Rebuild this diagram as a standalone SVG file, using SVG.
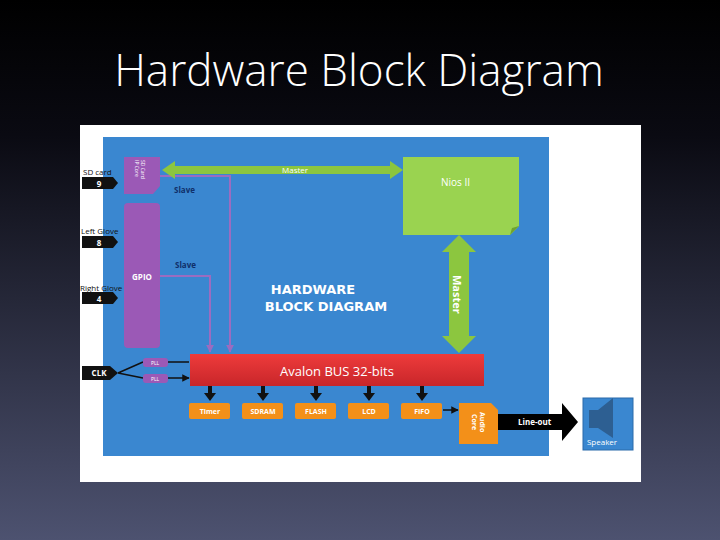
<svg xmlns="http://www.w3.org/2000/svg" width="720" height="540" viewBox="0 0 720 540">
<defs>
<linearGradient id="bg" x1="0" y1="0" x2="0" y2="1"><stop offset="0" stop-color="#000"/><stop offset="0.25" stop-color="#0a0a12"/><stop offset="1" stop-color="#4d5270"/></linearGradient>
<linearGradient id="red" x1="0" y1="0" x2="0" y2="1"><stop offset="0" stop-color="#ee3b3b"/><stop offset="1" stop-color="#c8262a"/></linearGradient>
<marker id="ah" viewBox="0 0 10 10" refX="9" refY="5" markerWidth="5" markerHeight="5" orient="auto"><path d="M0,0L10,5L0,10z" fill="#111"/></marker>
<marker id="ph" viewBox="0 0 10 10" refX="9" refY="5" markerWidth="4" markerHeight="4" orient="auto"><path d="M0,0L10,5L0,10z" fill="#9b6cc0"/></marker>
<style>
text{font-family:"Open Sans","Liberation Sans",sans-serif}
.w{fill:#fff;font-weight:bold}
.lbl{fill:#111;font-size:8px}
.blk{fill:#111}
.org{fill:#f39019}
.sl{fill:none;stroke:#9b6cc0;stroke-width:2}
.slt{fill:#10306a;font-size:8px;font-weight:bold}
</style>
</defs>
<rect width="720" height="540" fill="url(#bg)"/>
<text x="359" y="86" text-anchor="middle" fill="#fff" font-size="44" style="font-family:'Open Sans','Liberation Sans',sans-serif;font-weight:300">Hardware Block Diagram</text>
<rect x="80" y="125" width="561" height="357" fill="#fff"/>
<rect x="103" y="137" width="446" height="319" fill="#3a87d0"/>
<text x="313" y="294" text-anchor="middle" class="w" font-size="13" style="font-family:'DejaVu Sans',sans-serif">HARDWARE</text>
<text x="326" y="311" text-anchor="middle" class="w" font-size="13" style="font-family:'DejaVu Sans',sans-serif">BLOCK DIAGRAM</text>
<g id="connectors">
<path d="M160,176H230V352" class="sl" marker-end="url(#ph)"/>
<path d="M160,276H210V352" class="sl" marker-end="url(#ph)"/>
<text x="174" y="193" class="slt">Slave</text>
<text x="175" y="268" class="slt">Slave</text>
<path d="M162,170L175,161V166H390V161L403,170L390,179V174H175V179Z" fill="#8cc63f"/>
<text x="282" y="173" fill="#fff" font-size="8">Master</text>
<path d="M459,235L476,252H469V336H476L459,353L442,336H449V252H442Z" fill="#8cc63f"/>
<text transform="translate(453,275) rotate(90)" class="w" font-size="11">Master</text>
<path d="M118,373L143,362M118,373L143,378" stroke="#111" stroke-width="1.5"/>
<path d="M168,362H189M168,378H189" stroke="#111" stroke-width="1.5" marker-end="url(#ah)"/>
<g fill="#111">
<path d="M208,386H212V393H216L210,401L204,393H208Z"/>
<path d="M261,386H265V393H269L263,401L257,393H261Z"/>
<path d="M314,386H318V393H322L316,401L310,393H314Z"/>
<path d="M367,386H371V393H375L369,401L363,393H367Z"/>
<path d="M420,386H424V393H428L422,401L416,393H420Z"/>
</g>
<path d="M443,410H458" stroke="#111" stroke-width="1.5" marker-end="url(#ah)"/>
<path d="M498,414H562V403L578,422L562,441V430H498Z" fill="#000"/>
<text x="518" y="425" fill="#fff" font-size="8" font-weight="bold">Line-out</text>
</g>
<g id="sd-in"><text x="83" y="175" class="lbl">SD card</text><path d="M82,177H113L118,183L113,189H82Z" class="blk"/><text x="99" y="187" class="w" font-size="8" text-anchor="middle">9</text></g>
<g id="left-in"><text x="81" y="234" class="lbl">Left Glove</text><path d="M82,236H113L118,242L113,248H82Z" class="blk"/><text x="99" y="246" class="w" font-size="8" text-anchor="middle">8</text></g>
<g id="right-in"><text x="80" y="291" class="lbl">Right Glove</text><path d="M82,292H113L118,298L113,304H82Z" class="blk"/><text x="99" y="302" class="w" font-size="8" text-anchor="middle">4</text></g>
<g id="clk"><path d="M82,366H110L118,373L110,380H82Z" class="blk"/><text x="99" y="376" class="w" font-size="8" text-anchor="middle">CLK</text></g>
<g id="sdcore"><path d="M124,157H160V186L153,194H124Z" fill="#9b59b6"/><text transform="translate(141,160) rotate(90)" fill="#fff" font-size="5">SD Card</text><text transform="translate(135,160) rotate(90)" fill="#fff" font-size="5">IP Core</text></g>
<g id="gpio"><rect x="124" y="203" width="36" height="145" rx="4" fill="#9b59b6"/><text x="142" y="280" class="w" font-size="8" text-anchor="middle">GPIO</text></g>
<g id="pll1"><rect x="143" y="358" width="25" height="9" rx="3" fill="#9b59b6"/><text x="155" y="365" fill="#fff" font-size="5" text-anchor="middle">PLL</text></g>
<g id="pll2"><rect x="143" y="374" width="25" height="9" rx="3" fill="#9b59b6"/><text x="155" y="381" fill="#fff" font-size="5" text-anchor="middle">PLL</text></g>
<g id="nios"><path d="M403,157H519V226L510,235H403Z" fill="#9ad350"/><path d="M510,235L512,228L519,226Z" fill="#6fa32f"/><text x="441" y="186" fill="#fff" font-size="10">Nios II</text></g>
<g id="avalon"><rect x="190" y="354" width="294" height="32" fill="url(#red)"/><text x="337" y="376" fill="#fff" font-size="13" text-anchor="middle">Avalon BUS 32-bits</text></g>
<g id="timer"><rect x="189" y="403" width="41" height="16" rx="2" class="org"/><text x="210" y="414" class="w" font-size="7" text-anchor="middle">Timer</text></g>
<g id="sdram"><rect x="242" y="403" width="41" height="16" rx="2" class="org"/><text x="263" y="414" class="w" font-size="7" text-anchor="middle">SDRAM</text></g>
<g id="flash"><rect x="295" y="403" width="41" height="16" rx="2" class="org"/><text x="316" y="414" class="w" font-size="7" text-anchor="middle">FLASH</text></g>
<g id="lcd"><rect x="348" y="403" width="41" height="16" rx="2" class="org"/><text x="369" y="414" class="w" font-size="7" text-anchor="middle">LCD</text></g>
<g id="fifo"><rect x="401" y="403" width="41" height="16" rx="2" class="org"/><text x="422" y="414" class="w" font-size="7" text-anchor="middle">FIFO</text></g>
<g id="audio"><path d="M459,403H491L498,410V444H459Z" class="org"/><text transform="translate(480,412) rotate(90)" class="w" font-size="7">Audio</text><text transform="translate(472,414) rotate(90)" class="w" font-size="7">Core</text></g>
<g id="speaker"><rect x="583" y="398" width="50" height="52" fill="#3a87d0" stroke="#2a6aaa"/><path d="M589,410H598L613,398V438L598,428H589Z" fill="#2d5f92"/><text x="602" y="445" fill="#fff" font-size="8" text-anchor="middle">Speaker</text></g>
</svg>
